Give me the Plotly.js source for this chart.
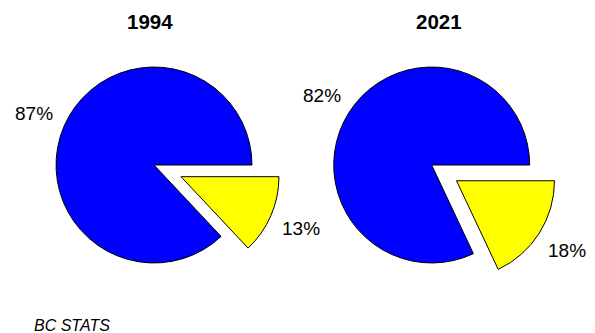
<!DOCTYPE html>
<html>
<head>
<meta charset="utf-8">
<script src="https://cdn.plot.ly/plotly-3.0.1.min.js"></script>
<style>html,body{margin:0;padding:0;background:#fff}#chart{width:595px;height:333px}</style>
</head>
<body>
<div id="chart"></div>
<script>
const sliceLabels = ["Share A", "Share B"];
const values1994 = [13, 87];
const values2021 = [18, 82];
const years = ["1994", "2021"];
const sliceColors = ["#ffff00", "#0000ff"];
const pulls = [0.3, 0];
const source = "BC STATS";

const FONT = "Liberation Sans, Arial, sans-serif";
const W = 595, H = 333;
const domains = [
  {x: [0.0447, 0.4730], y: [0.122, 0.887]},
  {x: [0.5114, 0.9397], y: [0.122, 0.887]}
];
const titleX = [150 / W, 439 / W];
const allValues = [values1994, values2021];

function pieTrace(vals, dom) {
  return {
    type: "pie",
    labels: sliceLabels,
    values: vals,
    sort: false,
    direction: "clockwise",
    rotation: 90,
    pull: pulls,
    marker: {colors: sliceColors, line: {color: "#000", width: 1}},
    textinfo: "none",
    hoverinfo: "label+percent",
    domain: dom
  };
}

const data = allValues.map((v, i) => pieTrace(v, domains[i]));

// percent labels placed outside each slice along its bisector
const annotations = [];
allValues.forEach((vals, k) => {
  const dom = domains[k];
  const w = (dom.x[1] - dom.x[0]) * W, h = (dom.y[1] - dom.y[0]) * H;
  const cx = (dom.x[0] + dom.x[1]) / 2 * W;
  const cy = (1 - (dom.y[0] + dom.y[1]) / 2) * H;
  const maxPull = Math.max(...pulls);
  const r = Math.min(w, h) / 2 / (1 + maxPull);
  const total = vals.reduce((a, b) => a + b, 0);
  let cum = 0;
  vals.forEach((v, i) => {
    const a = 2 * Math.PI * (cum + v / 2) / total;
    cum += v;
    const d = r * (1.33 + pulls[i]);
    const px = cx + d * Math.cos(a), py = cy + d * Math.sin(a);
    annotations.push({
      text: Math.round(100 * v / total) + "%",
      x: px / W, y: 1 - py / H, xref: "paper", yref: "paper",
      xanchor: "center", yanchor: "middle", showarrow: false,
      font: {family: FONT, size: 19, color: "#000"}
    });
  });
  annotations.push({
    text: "<b>" + years[k] + "</b>",
    x: titleX[k], y: 1 - 22 / H, xref: "paper", yref: "paper",
    xanchor: "center", yanchor: "middle", showarrow: false,
    font: {family: FONT, size: 20.5, color: "#000"}
  });
});
annotations.push({
  text: "<i>" + source + "</i>", x: 32 / W, y: 1 - 325 / H, xref: "paper", yref: "paper",
  xanchor: "left", yanchor: "middle", showarrow: false,
  font: {family: FONT, size: 16, color: "#000"}
});

const layout = {
  width: W, height: H,
  margin: {l: 0, r: 0, t: 0, b: 0},
  paper_bgcolor: "#fff",
  showlegend: false,
  annotations: annotations
};

Plotly.newPlot("chart", data, layout, {displayModeBar: false, staticPlot: true});
</script>
</body>
</html>
